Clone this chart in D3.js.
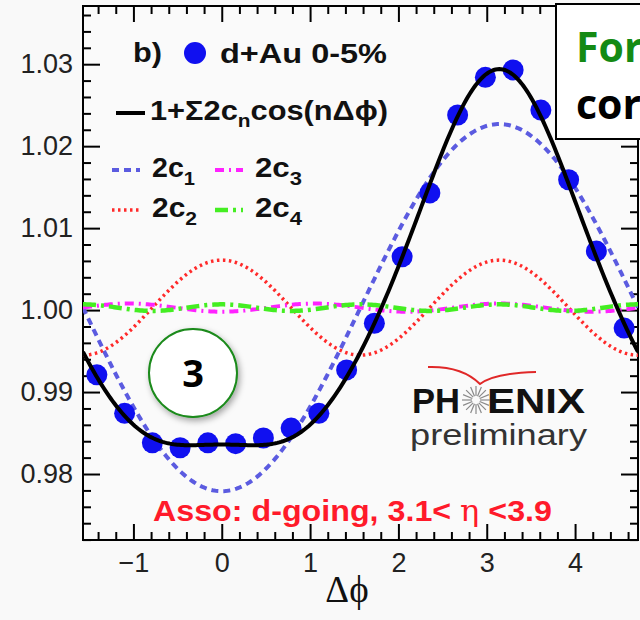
<!DOCTYPE html>
<html>
<head>
<meta charset="utf-8">
<script src="https://cdn.jsdelivr.net/npm/d3@7"></script>
<style>
  html, body { margin: 0; padding: 0; background: #f9f9f9; }
  svg { display: block; }
  .tick text { font-family: "Liberation Sans", Arial, sans-serif; font-size: 27px; fill: #222; }
</style>
</head>
<body>
<div id="chart"></div>
<script>
// bin centres are -pi/2 + pi/20 + k*pi/10, k = 0..19
const binIndex = d3.range(20);
const yieldValues = [0.9921, 0.9874, 0.9838, 0.9832, 0.9838, 0.9837, 0.9844, 0.9856, 0.9874, 0.9927,
  0.9984, 1.0065, 1.0143, 1.0238, 1.0284, 1.0293, 1.0244, 1.0159, 1.0072, 0.9978];
// fit: b0 + sum 2c_n cos(n dphi)
const fitBase = 1.0003;
const fitCoeffs = [-0.0224, 0.0058, -0.0005, 0.0004]; // 2c1, 2c2, 2c3, 2c4
const xTicks = [-1, 0, 1, 2, 3, 4];
const yTicks = [0.98, 0.99, 1.00, 1.01, 1.02, 1.03];
const componentNames = ["2c1", "2c2", "2c3", "2c4"];

const W = 640, H = 620;
const plotLeft = 83, plotRight = 638, plotTop = 6, plotBottom = 540;

const svg = d3.select("#chart").append("svg").attr("width", W).attr("height", H);

const x = d3.scaleLinear().domain([-Math.PI / 2, 3 * Math.PI / 2]).range([plotLeft, plotRight]);
const y = d3.scaleLinear().domain([0.97195, 1.0371]).range([plotBottom, plotTop]);

const defs = svg.append("defs");
defs.append("clipPath").attr("id", "plot-clip")
  .append("rect").attr("x", plotLeft).attr("y", plotTop)
  .attr("width", plotRight - plotLeft).attr("height", plotBottom - plotTop);
const shadow = defs.append("filter").attr("id", "shadow").attr("x", "-30%").attr("y", "-30%").attr("width", "160%").attr("height", "160%");
shadow.append("feDropShadow").attr("dx", 2).attr("dy", 3).attr("stdDeviation", 3).attr("flood-opacity", 0.35);

// plot area
svg.append("rect").attr("x", plotLeft).attr("y", plotTop)
  .attr("width", plotRight - plotLeft).attr("height", plotBottom - plotTop)
  .attr("fill", "#fafafa");

const minorX = d3.range(-1.4, 4.71, 0.2).map(v => Math.round(v * 10) / 10).filter(v => !xTicks.includes(v));
const minorY = d3.range(0.972, 1.037, 0.002).map(v => Math.round(v * 1000) / 1000)
  .filter(v => !yTicks.some(t => Math.abs(t - v) < 1e-6));

function tidy(g) {
  g.select(".domain").remove();
  g.selectAll("line").attr("stroke", "#000").attr("stroke-width", 2);
}

svg.append("g").attr("transform", `translate(0,${plotBottom})`)
  .call(d3.axisBottom(x).tickValues(xTicks).tickSize(-16).tickPadding(13).tickFormat(d3.format("d")))
  .call(tidy);
svg.append("g").attr("transform", `translate(0,${plotBottom})`)
  .call(d3.axisBottom(x).tickValues(minorX).tickSize(-8).tickFormat(""))
  .call(tidy);
svg.append("g").attr("transform", `translate(0,${plotTop})`)
  .call(d3.axisTop(x).tickValues(xTicks).tickSize(-16).tickFormat(""))
  .call(tidy);
svg.append("g").attr("transform", `translate(0,${plotTop})`)
  .call(d3.axisTop(x).tickValues(minorX).tickSize(-8).tickFormat(""))
  .call(tidy);
svg.append("g").attr("transform", `translate(${plotLeft},0)`)
  .call(d3.axisLeft(y).tickValues(yTicks).tickSize(-17).tickPadding(10).tickFormat(d3.format(".2f")))
  .call(tidy);
svg.append("g").attr("transform", `translate(${plotLeft},0)`)
  .call(d3.axisLeft(y).tickValues(minorY).tickSize(-8).tickFormat(""))
  .call(tidy);
svg.append("g").attr("transform", `translate(${plotRight},0)`)
  .call(d3.axisRight(y).tickValues(yTicks).tickSize(-17).tickFormat(""))
  .call(tidy);
svg.append("g").attr("transform", `translate(${plotRight},0)`)
  .call(d3.axisRight(y).tickValues(minorY).tickSize(-8).tickFormat(""))
  .call(tidy);

svg.append("rect").attr("x", plotLeft).attr("y", plotTop)
  .attr("width", plotRight - plotLeft).attr("height", plotBottom - plotTop)
  .attr("fill", "none").attr("stroke", "#000").attr("stroke-width", 2);

// curves
const grid = d3.range(0, 301).map(i => x.invert(plotLeft + (plotRight - plotLeft) * i / 300));
const line = d3.line().x(d => x(d[0])).y(d => y(d[1]));
const plot = svg.append("g").attr("clip-path", "url(#plot-clip)");

const styles = [
  { color: "#5b5be0", width: 4, dash: "7,5" },
  { color: "#ff2a2a", width: 3.5, dash: "2.5,3.5" },
  { color: "#ff22ff", width: 4, dash: "9,5,2,5" },
  { color: "#44ee22", width: 4.5, dash: "13,5,3,5" }
];

fitCoeffs.forEach((a, i) => {
  const n = i + 1;
  plot.append("path")
    .datum(grid.map(p => [p, fitBase + a * Math.cos(n * p)]))
    .attr("fill", "none").attr("stroke", styles[i].color)
    .attr("stroke-width", styles[i].width).attr("stroke-dasharray", styles[i].dash)
    .attr("d", line);
});

const binCentres = binIndex.map(k => -Math.PI / 2 + Math.PI / 20 + k * Math.PI / 10);

plot.selectAll("circle.pt").data(binCentres).enter().append("circle")
  .attr("class", "pt")
  .attr("cx", d => x(d)).attr("cy", (d, i) => y(yieldValues[i]))
  .attr("r", 10.5).attr("fill", "#1010f0");

plot.append("path")
  .datum(grid.map(p => [p, fitBase + d3.sum(fitCoeffs, (a, i) => a * Math.cos((i + 1) * p))]))
  .attr("fill", "none").attr("stroke", "#000").attr("stroke-width", 4)
  .attr("d", line);

// legend
const sans = "Liberation Sans, Arial, sans-serif";
const leg = svg.append("g").attr("font-family", sans).attr("font-weight", "bold").attr("font-size", 28).attr("fill", "#111");
leg.append("text").attr("x", 133).attr("y", 62).attr("textLength", 29).attr("lengthAdjust", "spacingAndGlyphs").text("b)");
leg.append("circle").attr("cx", 195).attr("cy", 53).attr("r", 11).attr("fill", "#1010f0");
leg.append("text").attr("x", 220).attr("y", 63).attr("textLength", 167).attr("lengthAdjust", "spacingAndGlyphs").text("d+Au 0-5%");
leg.append("line").attr("x1", 116).attr("x2", 145).attr("y1", 113).attr("y2", 113).attr("stroke", "#000").attr("stroke-width", 4);
const fitLabel = leg.append("text").attr("x", 150).attr("y", 120)
  .attr("textLength", 238).attr("lengthAdjust", "spacingAndGlyphs");
fitLabel.append("tspan").text("1+\u03A32c");
fitLabel.append("tspan").attr("font-size", 19).attr("dy", 7).text("n");
fitLabel.append("tspan").attr("dy", -7).text("cos(n\u0394\u03D5)");

const legPos = [[112, 170], [112, 210], [215, 170], [215, 210]];
const legLen = [43, 45, 47, 47];
componentNames.forEach((name, i) => {
  const [lx, ly] = legPos[i];
  leg.append("line").attr("x1", lx).attr("x2", lx + 28).attr("y1", ly).attr("y2", ly)
    .attr("stroke", styles[i].color).attr("stroke-width", styles[i].width)
    .attr("stroke-dasharray", styles[i].dash);
  const t = leg.append("text").attr("x", lx + 40).attr("y", ly + 7).attr("font-size", 27)
    .attr("textLength", legLen[i]).attr("lengthAdjust", "spacingAndGlyphs");
  t.append("tspan").text(name.slice(0, 2));
  t.append("tspan").attr("font-size", 19).attr("dy", 8).text(name.slice(2));
});

// selection text
const sel = svg.append("text").attr("x", 153).attr("y", 521)
  .attr("textLength", 399).attr("lengthAdjust", "spacingAndGlyphs")
  .attr("font-family", sans).attr("font-weight", "bold").attr("font-size", 30).attr("fill", "#ff1a2a");
sel.append("tspan").text("Asso: d-going, 3.1< ");
sel.append("tspan").attr("font-family", "DejaVu Serif, serif").attr("font-weight", "normal").text("\u03B7");
sel.append("tspan").text(" <3.9");

// axis title
svg.append("text").attr("x", 347).attr("y", 602).attr("text-anchor", "middle")
  .attr("font-family", "Liberation Serif, Times New Roman, serif").attr("font-size", 37).attr("fill", "#111")
  .text("\u0394\u03D5");

// PHENIX logo
const logo = svg.append("g");
logo.append("path").attr("d", "M428,367 Q462,366 480,384 Q494,373 536,372")
  .attr("fill", "none").attr("stroke", "#e02828").attr("stroke-width", 2);
logo.append("text").attr("x", 412).attr("y", 413).attr("font-family", sans).attr("font-weight", "bold")
  .attr("font-size", 35).attr("fill", "#111").attr("textLength", 48).attr("lengthAdjust", "spacingAndGlyphs").text("PH");
logo.append("text").attr("x", 487).attr("y", 413).attr("font-family", sans).attr("font-weight", "bold")
  .attr("font-size", 35).attr("fill", "#111").attr("textLength", 98).attr("lengthAdjust", "spacingAndGlyphs").text("ENIX");
d3.range(16).forEach(i => {
  const a = i * Math.PI / 8;
  logo.append("line").attr("x1", 476 + 4 * Math.cos(a)).attr("y1", 400 + 4 * Math.sin(a))
    .attr("x2", 476 + 14 * Math.cos(a)).attr("y2", 400 + 14 * Math.sin(a))
    .attr("stroke", "#8a8a8a").attr("stroke-width", 1.2);
});
logo.append("text").attr("x", 410).attr("y", 445)
  .attr("textLength", 177).attr("lengthAdjust", "spacingAndGlyphs")
  .attr("font-family", sans).attr("font-size", 30).attr("fill", "#333")
  .text("preliminary");

// annotation circle
svg.append("circle").attr("cx", 193).attr("cy", 373).attr("r", 44)
  .attr("fill", "#fff").attr("stroke", "#1a8a1a").attr("stroke-width", 2).attr("filter", "url(#shadow)");
svg.append("text").attr("x", 193).attr("y", 387).attr("text-anchor", "middle")
  .attr("font-family", "Open Sans, sans-serif").attr("font-weight", "bold").attr("font-size", 38).attr("fill", "#000")
  .text("3");

// boxed note at top right
svg.append("rect").attr("x", 556).attr("y", 4).attr("width", 90).attr("height", 135)
  .attr("fill", "#fff").attr("stroke", "#000").attr("stroke-width", 2);
svg.append("text").attr("x", 576).attr("y", 62).attr("font-family", "Open Sans, sans-serif").attr("font-weight", "bold")
  .attr("font-size", 41).attr("fill", "#148a14").text("For");
svg.append("text").attr("x", 576).attr("y", 119).attr("font-family", "Open Sans, sans-serif").attr("font-weight", "bold")
  .attr("font-size", 41).attr("fill", "#000").text("cor");
</script>
</body>
</html>
